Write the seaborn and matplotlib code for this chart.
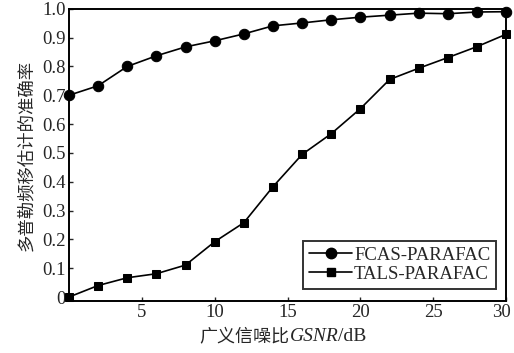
import matplotlib
matplotlib.use("Agg")
import matplotlib.pyplot as plt
import matplotlib.transforms as mtransforms
import seaborn as sns
import pandas as pd
from matplotlib.lines import Line2D
from matplotlib.offsetbox import TextArea, HPacker, AnchoredOffsetbox

snr = [0, 2, 4, 6, 8, 10, 12, 14, 16, 18, 20, 22, 24, 26, 28, 30]
fcas = [0.70, 0.733, 0.80, 0.837, 0.868, 0.889, 0.913, 0.941, 0.951, 0.962,
        0.971, 0.978, 0.985, 0.983, 0.989, 0.990]
tals = [0.0, 0.04, 0.067, 0.081, 0.111, 0.192, 0.258, 0.383, 0.495, 0.567,
        0.654, 0.755, 0.794, 0.831, 0.869, 0.912]
series_names = ["FCAS-PARAFAC", "TALS-PARAFAC"]
xticks = [5, 10, 15, 20, 25, 30]
yticks = [0, 0.1, 0.2, 0.3, 0.4, 0.5, 0.6, 0.7, 0.8, 0.9, 1.0]
ytick_labels = ["0", "0.1", "0.2", "0.3", "0.4", "0.5", "0.6", "0.7", "0.8", "0.9", "1.0"]
xlabel_parts = ["广义信噪比", "GSNR", "/dB"]
ylabel_text = "多普勒频移估计的准确率"

df = pd.DataFrame({
    "snr": snr + snr,
    "acc": fcas + tals,
    "method": [series_names[0]] * len(snr) + [series_names[1]] * len(snr),
})

sns.set_style("ticks")
fam = ["Liberation Serif", "Noto Sans CJK SC"]
plt.rcParams["font.family"] = fam

fig = plt.figure(figsize=(5.14, 3.53), dpi=100)
ax = fig.add_axes([0.134, 0.147, 0.851, 0.828])

sns.lineplot(data=df, x="snr", y="acc", style="method",
             markers={series_names[0]: "o", series_names[1]: "s"},
             dashes=False, color="black", ax=ax, linewidth=1.2,
             markersize=7, markeredgecolor="black", legend=False)
lines = ax.get_lines()
if len(lines) >= 2:
    lines[0].set_markersize(7.5)
    lines[1].set_markersize(6.2)
    for ln in lines:
        ln.set_clip_on(False)
        ln.set_zorder(5)

ax.set_xlim(0, 30)
ax.set_ylim(-0.014, 1.0)
ax.set_xticks(xticks)
ax.set_yticks(yticks)
ax.set_yticklabels(ytick_labels)
ax.tick_params(direction="in", length=3, width=1, labelsize=13.5, pad=2)
for sp in ax.spines.values():
    sp.set_visible(True)
    sp.set_linewidth(1.4)
    sp.set_color("black")

# keep the last x tick label inside the figure
last = ax.get_xticklabels()[-1]
last.set_transform(last.get_transform() + mtransforms.ScaledTranslation(-5 / 100, 0, fig.dpi_scale_trans))

ax.set_xlabel("")
ax.set_ylabel(ylabel_text, fontsize=12.5, family=fam, labelpad=5)

parts = [
    TextArea(xlabel_parts[0], textprops=dict(fontsize=13, family=["Noto Sans CJK SC"])),
    TextArea(xlabel_parts[1], textprops=dict(fontsize=14, family=["Liberation Serif"], style="italic")),
    TextArea(xlabel_parts[2], textprops=dict(fontsize=14, family=["Liberation Serif"])),
]
box = HPacker(children=parts, align="baseline", pad=0, sep=0)
anch = AnchoredOffsetbox(loc="upper center", child=box, pad=0, frameon=False,
                         bbox_to_anchor=(0.49, -0.09), bbox_transform=ax.transAxes,
                         borderpad=0)
ax.add_artist(anch)

handles = [Line2D([], [], color="black", marker="o", markersize=7.5, linewidth=1.2),
           Line2D([], [], color="black", marker="s", markersize=6.2, linewidth=1.2)]
leg = ax.legend(handles, series_names, loc="lower right", bbox_to_anchor=(0.985, 0.03),
                fontsize=13.5, frameon=True, fancybox=False, handlelength=2.3,
                handletextpad=0.1, borderpad=0.3, labelspacing=0.12, borderaxespad=0.2)
leg.get_frame().set_edgecolor("black")
leg.get_frame().set_linewidth(1.4)

fig.savefig("out.png", dpi=100)
